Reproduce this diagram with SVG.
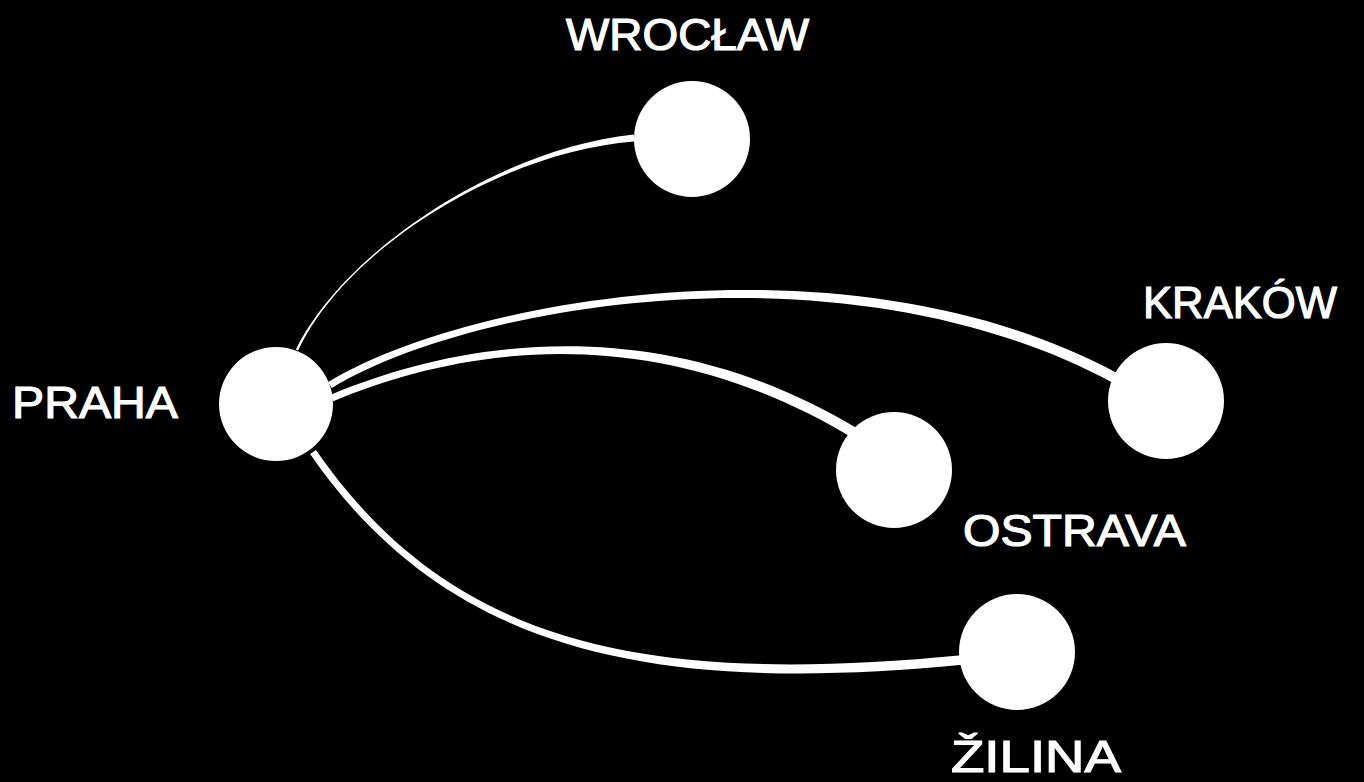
<svg xmlns="http://www.w3.org/2000/svg" width="1364" height="782" viewBox="0 0 1364 782">
  <style>
    .node { fill: #ffffff; }
    .edge { fill: #ffffff; stroke: none; }
    .label { fill: #ffffff; font-family: "Liberation Sans", Arial, sans-serif; font-weight: normal; font-size: 45px; stroke: #ffffff; stroke-width: 1.2px; }
  </style>
  <rect x="0" y="0" width="1364" height="782" fill="#000000"/>
  <g id="connectors">
    <path id="e-praha-wroclaw" class="edge" d="M298.1,350.5 C345,250 500.2,151.7 634.3,141.5 L633.7,134.5 C499.8,148.3 345,250 295.9,349.5 Z"/>
    <path id="e-praha-krakow" class="edge" d="M331.8,388.0 C471.8,303.0 847.6,239.6 1112.6,382.8 L1117.4,373.2 C852.4,230.4 468.2,297.0 328.2,382.0 Z"/>
    <path id="e-praha-ostrava" class="edge" d="M333.3,401.2 C451.3,351.2 647.6,312.6 855.6,439.8 L860.4,430.2 C652.4,303.4 448.7,344.8 330.7,394.8 Z"/>
    <path id="e-praha-zilina" class="edge" d="M310.1,454.0 C447.1,652.0 650.4,694.8 962.4,664.8 L961.6,655.2 C649.6,685.2 452.9,648.0 315.9,450.0 Z"/>
  </g>
  <g id="praha">
    <circle class="node" cx="276" cy="404" r="57"/>
    <text class="label" x="12" y="418" textLength="166" lengthAdjust="spacingAndGlyphs">PRAHA</text>
  </g>
  <g id="wroclaw">
    <circle class="node" cx="692" cy="139" r="58"/>
    <text class="label" x="566" y="50" textLength="243" lengthAdjust="spacingAndGlyphs">WROCŁAW</text>
  </g>
  <g id="krakow">
    <circle class="node" cx="1166" cy="401" r="58"/>
    <text class="label" x="1143" y="318" textLength="194" lengthAdjust="spacingAndGlyphs">KRAKÓW</text>
  </g>
  <g id="ostrava">
    <circle class="node" cx="894" cy="470" r="58"/>
    <text class="label" x="963" y="546" textLength="223" lengthAdjust="spacingAndGlyphs">OSTRAVA</text>
  </g>
  <g id="zilina">
    <circle class="node" cx="1017" cy="652" r="58"/>
    <text class="label" x="951" y="772" font-size="44" textLength="170" lengthAdjust="spacingAndGlyphs">ŽILINA</text>
  </g>
</svg>
